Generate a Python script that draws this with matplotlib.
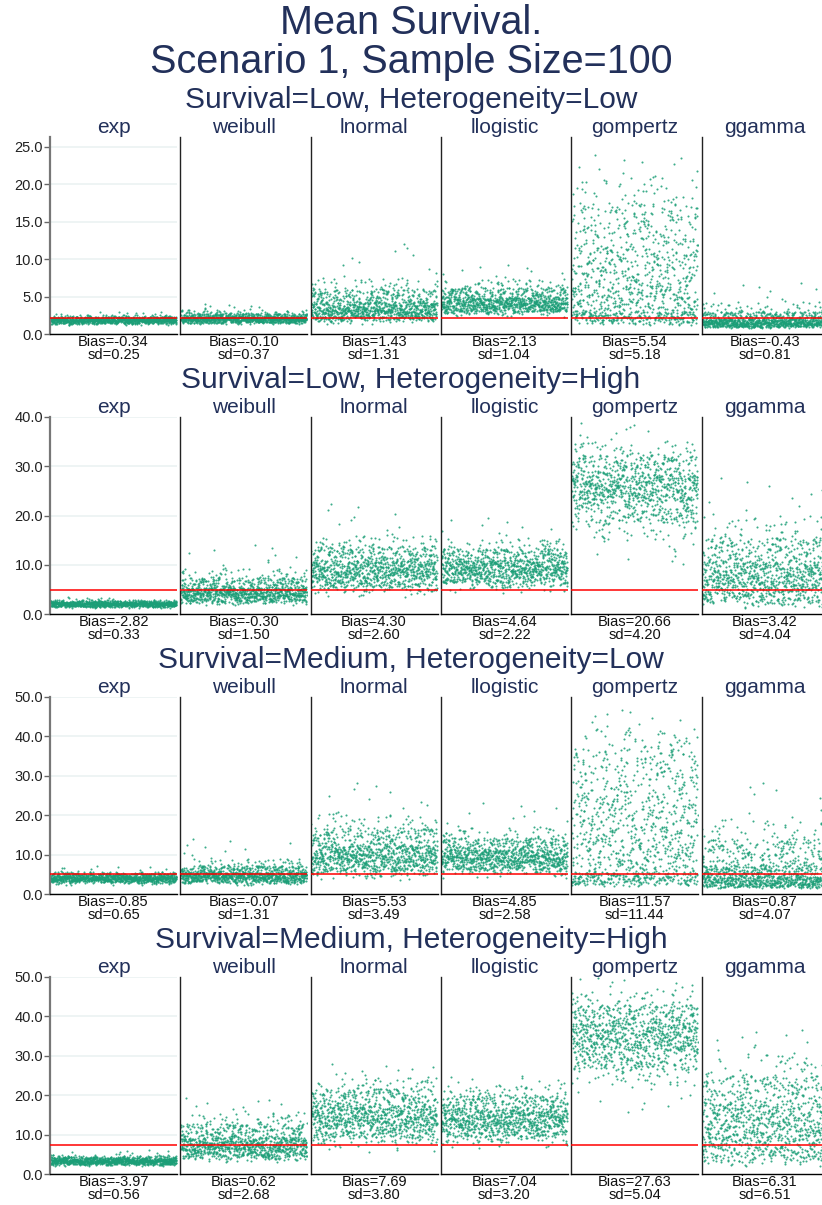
import numpy as np
import matplotlib.pyplot as plt

plt.rcParams['font.family'] = ['Liberation Sans', 'DejaVu Sans']

models = ['exp', 'weibull', 'lnormal', 'llogistic', 'gompertz', 'ggamma']
scenarios = ['Survival=Low, Heterogeneity=Low',
             'Survival=Low, Heterogeneity=High',
             'Survival=Medium, Heterogeneity=Low',
             'Survival=Medium, Heterogeneity=High']
true_mean = [2.2, 4.9, 4.95, 7.3]
y_max = [26.3, 40.0, 50.0, 50.0]
y_ticks = [[0, 5, 10, 15, 20, 25], [0, 10, 20, 30, 40],
           [0, 10, 20, 30, 40, 50], [0, 10, 20, 30, 40, 50]]

bias_low_low = [-0.34, -0.10, 1.43, 2.13, 5.54, -0.43]
sd_low_low = [0.25, 0.37, 1.31, 1.04, 5.18, 0.81]
bias_low_high = [-2.82, -0.30, 4.30, 4.64, 20.66, 3.42]
sd_low_high = [0.33, 1.50, 2.60, 2.22, 4.20, 4.04]
bias_med_low = [-0.85, -0.07, 5.53, 4.85, 11.57, 0.87]
sd_med_low = [0.65, 1.31, 3.49, 2.58, 11.44, 4.07]
bias_med_high = [-3.97, 0.62, 7.69, 7.04, 27.63, 6.31]
sd_med_high = [0.56, 2.68, 3.80, 3.20, 5.04, 6.51]

# replicate estimates read off the clouds: min, p1, p5, p25, p50, p75, p95, p99, max
q_probs = [0.0, 0.01, 0.05, 0.25, 0.5, 0.75, 0.95, 0.99, 1.0]
q_low_low = [[1.2, 1.35, 1.45, 1.7, 1.85, 2.02, 2.3, 2.55, 3.0],
             [1.3, 1.45, 1.55, 1.85, 2.05, 2.3, 2.75, 3.2, 4.0],
             [1.3, 1.7, 2.0, 2.7, 3.35, 4.3, 6.0, 7.5, 12.2],
             [2.3, 2.7, 3.0, 3.6, 4.2, 4.9, 6.2, 7.3, 9.3],
             [1.2, 1.4, 1.8, 3.0, 6.5, 11.5, 17.5, 21.0, 24.0],
             [0.8, 0.9, 1.0, 1.3, 1.6, 2.0, 3.0, 4.3, 6.9]]
q_low_high = [[1.2, 1.4, 1.55, 1.85, 2.05, 2.28, 2.6, 2.9, 3.4],
              [1.8, 2.2, 2.6, 3.6, 4.4, 5.4, 7.4, 9.3, 14.2],
              [3.5, 4.5, 5.5, 7.4, 9.0, 10.8, 13.8, 16.0, 22.7],
              [4.3, 5.3, 6.3, 8.0, 9.4, 10.9, 13.3, 15.3, 19.7],
              [10.0, 15.0, 18.5, 23.0, 25.7, 28.3, 32.3, 35.0, 39.0],
              [1.2, 2.0, 2.8, 5.3, 7.8, 10.7, 15.5, 20.0, 28.0]]
q_med_low = [[2.2, 2.7, 3.1, 3.65, 4.05, 4.5, 5.2, 5.7, 7.2],
             [2.2, 2.7, 3.1, 4.0, 4.7, 5.5, 7.2, 9.0, 14.2],
             [3.6, 4.6, 5.8, 8.0, 10.0, 12.4, 16.8, 20.5, 28.6],
             [4.0, 5.2, 6.2, 8.0, 9.5, 11.3, 14.3, 17.0, 23.3],
             [2.0, 2.4, 3.0, 5.5, 14.5, 25.0, 37.0, 42.0, 47.0],
             [1.5, 1.7, 2.0, 3.0, 4.5, 7.3, 14.0, 19.0, 28.7]]
q_med_high = [[2.0, 2.3, 2.5, 2.95, 3.3, 3.7, 4.3, 4.8, 6.1],
              [3.0, 3.7, 4.4, 6.0, 7.5, 9.3, 12.8, 15.5, 19.5],
              [5.5, 7.8, 9.3, 12.3, 14.7, 17.4, 21.7, 24.5, 28.0],
              [6.6, 8.0, 9.5, 12.0, 14.1, 16.4, 20.0, 22.5, 25.0],
              [15.5, 22.5, 26.5, 31.5, 35.0, 38.5, 43.0, 46.5, 50.0],
              [2.0, 3.0, 4.2, 8.5, 13.0, 18.0, 25.0, 30.5, 37.0]]

biases = [bias_low_low, bias_low_high, bias_med_low, bias_med_high]
sds = [sd_low_low, sd_low_high, sd_med_low, sd_med_high]
quants = [q_low_low, q_low_high, q_med_low, q_med_high]

n_rep = 1000
rep = np.arange(1, n_rep + 1)
MASK = 0xffffffff


def replicate_order(seed):
    # integer hash -> fixed, repeatable order of the replicates
    x = (rep.astype(np.uint64) * 2654435761 + seed * 40503 + 7) & MASK
    x ^= x >> 16
    x = (x * 0x7feb352d) & MASK
    x ^= x >> 15
    x = (x * 0x846ca68b) & MASK
    x ^= x >> 16
    return np.argsort(np.argsort(x))


W, H = 822, 1205
fig = plt.figure(figsize=(W / 100, H / 100), dpi=100)
fig.patch.set_facecolor('white')

navy = '#22305a'
green = '#1b9e77'

fig.text(0.5, 1 - 23 / H, 'Mean Survival.', ha='center', va='center',
         fontsize=28.5, color=navy)
fig.text(0.5, 1 - 62 / H, 'Scenario 1, Sample Size=100', ha='center',
         va='center', fontsize=28.5, color=navy)

row_top = [137, 417, 697, 977]
row_bot = [334, 614, 894, 1174]

for r in range(4):
    fig.text(0.5, 1 - (row_top[r] - 37) / H, scenarios[r], ha='center',
             va='center', fontsize=21.5, color=navy)
    for c, m in enumerate(models):
        left = 50 + c * 130.3
        ax = fig.add_axes([left / W, 1 - row_bot[r] / H, 127 / W,
                           (row_bot[r] - row_top[r]) / H])
        rank = replicate_order(r * 6 + c + 1)
        est = np.interp((rank + 0.5) / n_rep, q_probs, quants[r][c])
        ax.plot(rep, est, 'o', ms=1.5, mew=0, color=green, alpha=0.85,
                zorder=2)
        ax.axhline(true_mean[r], color='#ff0000', lw=1.1, zorder=3)
        ax.set_xlim(-4, n_rep + 5)
        ax.set_ylim(0, y_max[r])
        ax.set_xticks([])
        for s in ['top', 'right']:
            ax.spines[s].set_visible(False)
        ax.spines['bottom'].set_color('black')
        ax.spines['bottom'].set_linewidth(1.0)
        ax.set_title(m, fontsize=15, color=navy, pad=3)
        if c == 0:
            ax.set_yticks(y_ticks[r])
            ax.set_yticklabels(['%.1f' % v for v in y_ticks[r]])
            ax.tick_params(axis='y', labelsize=10.5, length=4, width=1,
                           color='#666666', labelcolor='#222222', pad=1)
            ax.spines['left'].set_color('#777777')
            ax.spines['left'].set_linewidth(1.6)
            ax.grid(axis='y', color='#ebf2f2', lw=1.2, zorder=0)
            ax.set_axisbelow(True)
        else:
            ax.set_yticks([])
            ax.spines['left'].set_color('#222222')
            ax.spines['left'].set_linewidth(1.0)
        ax.text(0.5, -0.005, 'Bias=%.2f\nsd=%.2f' % (biases[r][c], sds[r][c]),
                transform=ax.transAxes, ha='center', va='top',
                fontsize=10.5, color='#111111', linespacing=0.95)

fig.savefig('out.png', dpi=100, facecolor='white')
